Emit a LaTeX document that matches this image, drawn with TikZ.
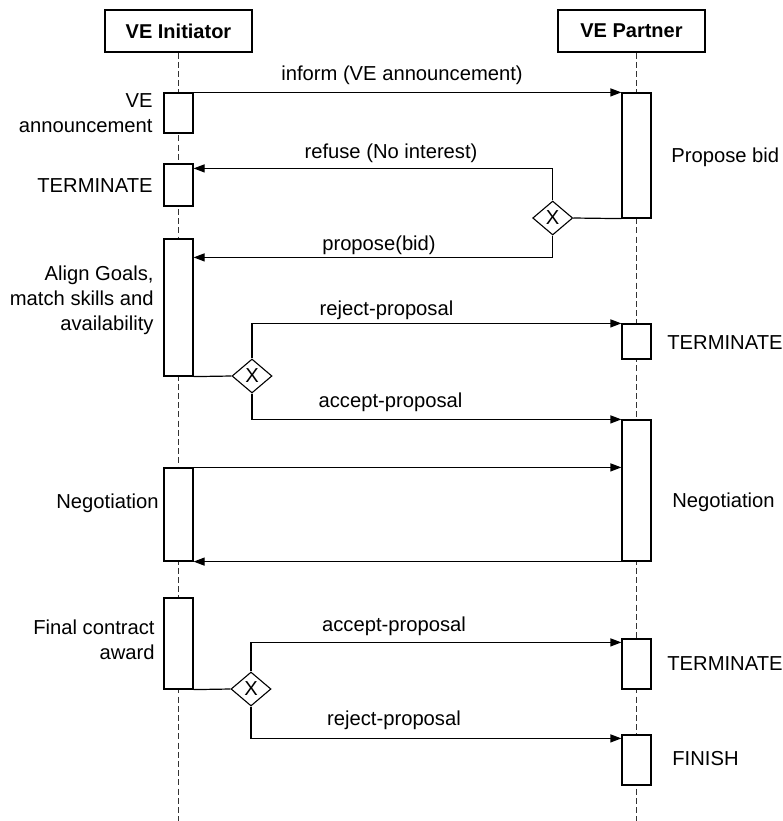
\documentclass[tikz,border=0pt]{standalone}
\usepackage{fontspec}
\setmainfont{Liberation Sans}
\usetikzlibrary{arrows.meta,shapes.geometric,calc,backgrounds}

\begin{document}
\begin{tikzpicture}[x=0.5pt,y=-0.5pt,
  font=\fontsize{10.1}{12.3}\selectfont,
  head/.style={draw, line width=0.65pt, minimum width=73.5pt, minimum height=21pt,
    inner sep=0pt, font=\fontsize{10}{12.3}\selectfont\bfseries},
  act/.style={draw, fill=white, line width=0.6pt, minimum width=14.5pt, inner sep=0pt},
  gate/.style={diamond, draw, fill=white, line width=0.55pt, minimum width=20pt,
    minimum height=17pt, inner sep=0pt},
  msg/.style={line width=0.6pt, -{Triangle[length=5.5pt,width=4pt]}},
  flow/.style={line width=0.6pt},
  life/.style={line width=0.55pt, dash pattern=on 3pt off 1.6pt, draw=black!80},
  lbl/.style={anchor=base, inner sep=0pt},
  note/.style={anchor=base east, inner sep=0pt, align=right},
  rnote/.style={anchor=base west, inner sep=0pt},
]
\useasboundingbox (0,0) rectangle (783,821);
\coordinate (bottom) at (0,821);

% participants
\node[head] (hi) at (178.5,31) {VE Initiator};
\node[head] (hp) at (631.5,31) {VE Partner};

% activations of the initiator
\node[act, minimum height=20pt]   (i1) at (178.5,113)   {};
\node[act, minimum height=21pt]   (i2) at (178.5,185)   {};
\node[act, minimum height=68.5pt] (i3) at (178.5,307.5) {};
\node[act, minimum height=46.5pt] (i4) at (178.5,514.5) {};
\node[act, minimum height=45.5pt] (i5) at (178.5,643.5) {};

% activations of the partner
\node[act, minimum height=62.5pt] (p1) at (636.5,155.5) {};
\node[act, minimum height=17.5pt] (p2) at (636.5,341.5) {};
\node[act, minimum height=70.5pt] (p3) at (636.5,490.5) {};
\node[act, minimum height=25pt]   (p4) at (636.5,664)   {};
\node[act, minimum height=25pt]   (p5) at (636.5,760)   {};

% lifelines
\begin{scope}[on background layer]
  \draw[life] (hi.south) -- (hi.south |- bottom);
  \draw[life] (hp.south -| p1.center) -- (p1.center |- bottom);
\end{scope}

% exclusive gateways
\node[gate] (d1) at (552.7,218) {X};
\node[gate] (d2) at (252,376)   {X};
\node[gate] (d3) at (251,689)   {X};

% announcement and reply
\draw[msg] (i1.north east) -- (i1.north east -| p1.west);
\node[lbl] (t1) at (402,80) {inform (VE announcement)};
\draw[flow] (d1.east) -- (p1.south west);
\draw[msg] (d1.north) |- ($(i2.north east)+(0,5)$);
\node[lbl] (t2) at (391,158) {refuse (No interest)};
\draw[msg] (d1.south) |- ($(i3.north east)+(0,19)$);
\node[lbl] (t3) at (379,250) {propose(bid)};

% evaluation of the bid
\draw[flow] (i3.south east) -- (d2.west);
\draw[msg] (d2.north) |- (p2.north west);
\node[lbl] (t4) at (386.5,315) {reject-proposal};
\draw[msg] (d2.south) |- (p3.north west);
\node[lbl] (t5) at (390.5,407) {accept-proposal};

% negotiation
\draw[msg] (i4.north east) -- (i4.north east -| p3.west);
\draw[msg] (p3.south west) -- (p3.south west -| i4.east);

% award
\draw[flow] (i5.south east) -- (d3.west);
\draw[msg] (d3.north) |- ($(p4.north west)+(0,4)$);
\node[lbl] (t6) at (394,631) {accept-proposal};
\draw[msg] (d3.south) |- ($(p5.north west)+(0,4)$);
\node[lbl] (t7) at (394,725) {reject-proposal};

% activity notes (multi-line notes sit on their last baseline)
\node[note] (n1) at (153,132) {VE\\announcement};
\node[note] (n2) at (153,192) {TERMINATE};
\node[note] (n3) at (154,330) {Align Goals,\\match skills and\\availability};
\node[note] (n4) at (159,508) {Negotiation};
\node[note] (n5) at (155,659) {Final contract\\award};
\node[rnote] (n6) at (671,162) {Propose bid};
\node[rnote] (n7) at (667,349) {TERMINATE};
\node[rnote] (n8) at (672,507) {Negotiation};
\node[rnote] (n9) at (667,670) {TERMINATE};
\node[rnote] (n10) at (672,765) {FINISH};
\end{tikzpicture}
\end{document}
